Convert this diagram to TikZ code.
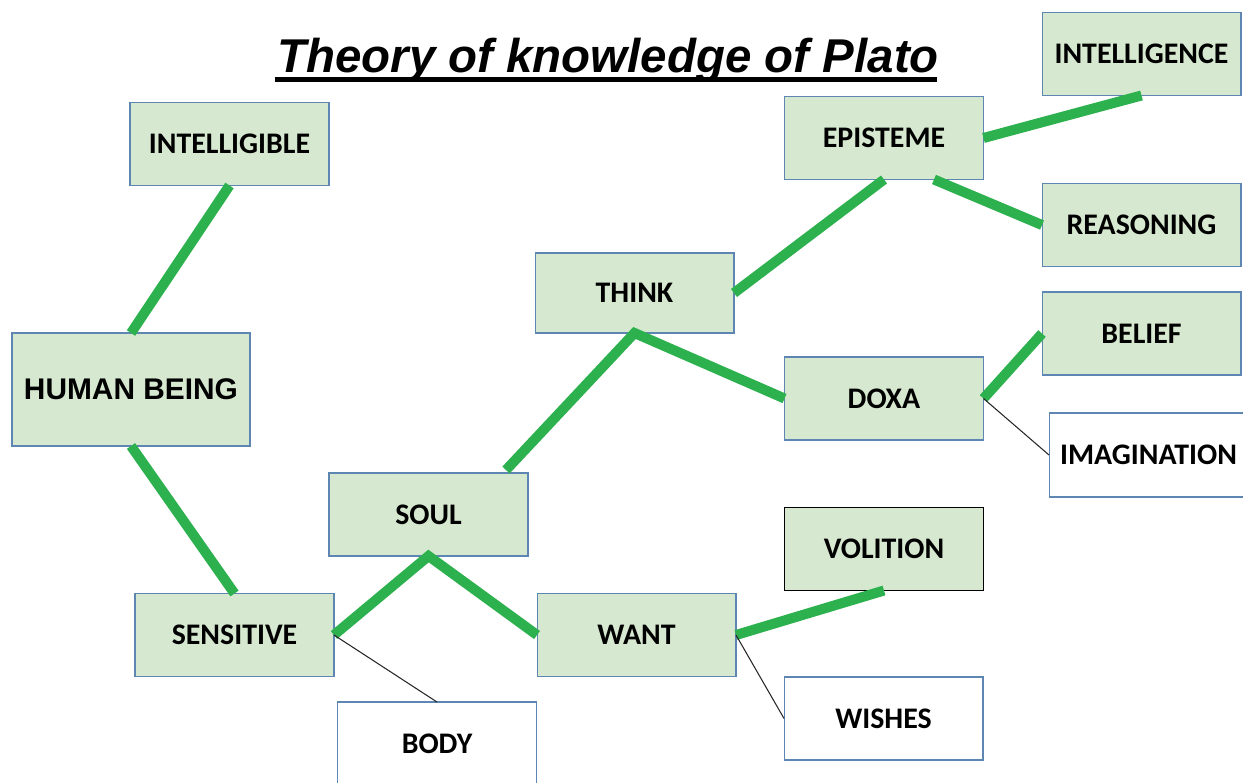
\documentclass[tikz,border=0pt]{standalone}
\usepackage{fontspec}
\setmainfont{Carlito}
\newfontfamily\arialfont{Liberation Sans}
\definecolor{boxfill}{HTML}{D6E9D0}
\definecolor{boxline}{HTML}{5E86B3}
\definecolor{linkgreen}{HTML}{2DB14E}
\tikzset{
  gbox/.style={draw=boxline, fill=boxfill, line width=0.6pt, inner sep=0pt, outer sep=0pt,
    minimum width=3.98cm, minimum height=1.66cm, font=\fontsize{17}{20}\selectfont\bfseries},
  wbox/.style={gbox, fill=white},
  glink/.style={draw=linkgreen, line width=5.7pt},
  tlink/.style={draw=black!85, line width=0.6pt},
}
\begin{document}
\begin{tikzpicture}[x=0.02cm, y=-0.02cm]
\useasboundingbox (0,0) rectangle (1243,782);
% title
\node[anchor=base, inner sep=0pt, font=\arialfont\fontsize{27}{30}\selectfont\bfseries\itshape] (title) at (608,72) {Theory of knowledge of Plato};
\draw[line width=2.8pt] (275,79.5) -- (937,79.5);
% boxes
\node[gbox] (intelligible) at (229.5,144) {INTELLIGIBLE};
\node[gbox, minimum width=4.76cm, minimum height=2.26cm, font=\arialfont\fontsize{17}{20}\selectfont\bfseries] (human) at (131,389.5) {HUMAN BEING};
\node[gbox] (sensitive) at (234.5,635) {SENSITIVE};
\node[wbox] (body) at (437,743.5) {BODY};
\node[gbox] (soul) at (428.5,514.5) {SOUL};
\node[gbox] (want) at (636.5,635) {WANT};
\node[gbox, draw=black] (volition) at (884,549) {VOLITION};
\node[wbox] (wishes) at (883.5,718.5) {WISHES};
\node[gbox, minimum height=1.6cm] (think) at (634.5,293) {THINK};
\node[gbox] (doxa) at (884,398.5) {DOXA};
\node[gbox] (belief) at (1141.5,333.5) {BELIEF};
\node[wbox, minimum height=1.68cm] (imagination) at (1148.5,455) {IMAGINATION};
\node[gbox] (episteme) at (884,138) {EPISTEME};
\node[gbox] (intelligence) at (1141.5,54) {INTELLIGENCE};
\node[gbox] (reasoning) at (1141.5,225) {REASONING};
% green links
\draw[glink] (intelligible.south) -- (human.north);
\draw[glink] (human.south) -- (sensitive.north);
\draw[glink] (sensitive.east) -- (soul.south) -- (want.west);
\draw[glink] ([xshift=1.55cm,yshift=0.06cm]soul.north) -- (think.south) -- (doxa.west);
\draw[glink] (think.east) -- (episteme.south);
\draw[glink] (episteme.east) -- (intelligence.south);
\draw[glink] ([xshift=1cm]episteme.south) -- (reasoning.west);
\draw[glink] (doxa.east) -- (belief.west);
\draw[glink] (want.east) -- (volition.south);
% thin links
\draw[tlink] (sensitive.east) -- (body.north);
\draw[tlink] (doxa.east) -- (imagination.west);
\draw[tlink] (want.east) -- (wishes.west);
\end{tikzpicture}
\end{document}
